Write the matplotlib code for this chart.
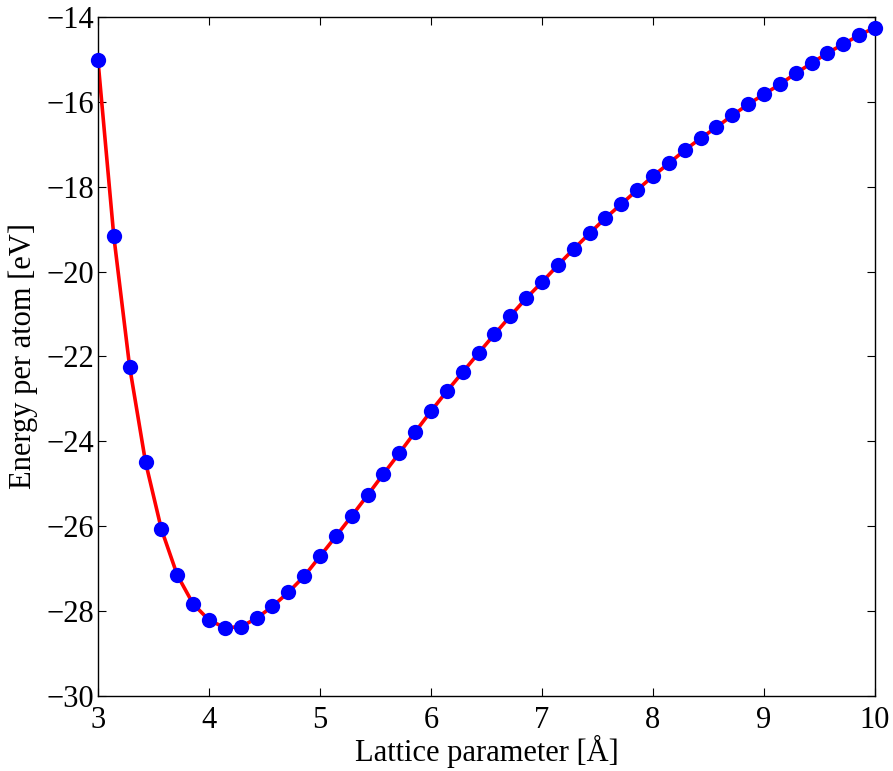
import numpy as np
import matplotlib.pyplot as plt

plt.rcParams['font.family'] = ['Liberation Serif', 'DejaVu Serif']
plt.rcParams['mathtext.fontset'] = 'stix'
plt.rcParams['font.size'] = 17

# lattice parameter [A] and energy per atom [eV]
lattice = np.linspace(3, 10, 50)
energy = [-15.02, -19.17, -22.25, -24.49, -26.07, -27.15, -27.83, -28.21, -28.39, -28.37,
          -28.17, -27.89, -27.56, -27.18, -26.71, -26.24, -25.76, -25.27, -24.77, -24.28,
          -23.78, -23.29, -22.82, -22.37, -21.92, -21.48, -21.05, -20.63, -20.25, -19.85,
          -19.47, -19.10, -18.74, -18.41, -18.08, -17.75, -17.45, -17.14, -16.86, -16.60,
          -16.32, -16.06, -15.82, -15.59, -15.33, -15.09, -14.85, -14.64, -14.43, -14.25]

fig = plt.figure(figsize=(8.93, 7.71), dpi=100)
ax = fig.add_axes([0.1097, 0.0973, 0.8701, 0.8807])

ax.plot(lattice, energy, color='r', linewidth=2.6, zorder=2)
ax.plot(lattice, energy, 'o', color='b', markersize=11, markeredgewidth=0, zorder=3, clip_on=False)

ax.set_xlim(3, 10)
ax.set_ylim(-30, -14)
ax.set_xticks(range(3, 11))
ax.set_yticks(range(-30, -13, 2))
ax.set_yticklabels(['\u2212%d' % -v for v in range(-30, -13, 2)])
ax.tick_params(direction='in', top=True, right=True, length=6, width=0.8, labelsize=22)
ax.tick_params(axis='x', pad=7)
ax.tick_params(axis='y', pad=3)
for s in ax.spines.values():
    s.set_linewidth(1.0)

ax.set_xlabel('Lattice parameter [Å]', fontsize=22, labelpad=0)
ax.set_ylabel('Energy per atom [eV]', fontsize=22, labelpad=6)

fig.savefig('out.png', dpi=100)
